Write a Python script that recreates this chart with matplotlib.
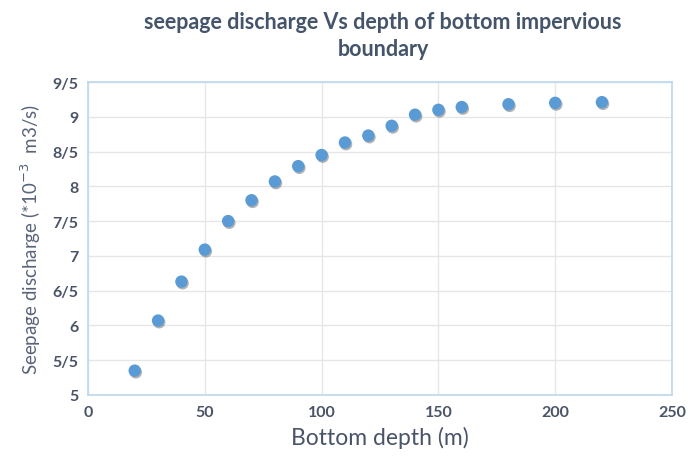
import matplotlib
matplotlib.use("Agg")
import matplotlib.pyplot as plt
import matplotlib.patheffects as pe

# bottom depth (m) vs seepage discharge (*10^-3 m3/s)
depth = [20, 30, 40, 50, 60, 70, 80, 90, 100, 110, 120, 130, 140, 150, 160, 180, 200, 220]
discharge = [5.35, 6.07, 6.63, 7.09, 7.50, 7.80, 8.07, 8.29, 8.45, 8.63, 8.73, 8.87,
             9.03, 9.10, 9.14, 9.18, 9.20, 9.21]

x_ticks = [0, 50, 100, 150, 200, 250]
y_ticks = [5, 5.5, 6, 6.5, 7, 7.5, 8, 8.5, 9, 9.5]
y_tick_labels = ["5", "5/5", "6", "6/5", "7", "7/5", "8", "8/5", "9", "9/5"]

plt.rcParams['font.family'] = ['Lato', 'DejaVu Sans']

fig = plt.figure(figsize=(6.9, 4.64), dpi=100)
ax = fig.add_axes([88 / 690, 1 - 396 / 464, 584 / 690, 313 / 464])

sc = ax.scatter(depth, discharge, s=80, color='#5b9bd5', zorder=3, linewidths=0)
sc.set_path_effects([pe.SimplePatchShadow(offset=(0.8, -1.2), shadow_rgbFace='#555555', alpha=0.45),
                     pe.Normal()])

ax.set_xlim(0, 250)
ax.set_ylim(5, 9.5)
ax.set_xticks(x_ticks)
ax.set_yticks(y_ticks)
ax.set_yticklabels(y_tick_labels)
ax.tick_params(length=0, labelsize=11.5, labelcolor='#4a5468', pad=7)
for lab in ax.get_xticklabels() + ax.get_yticklabels():
    lab.set_fontweight('bold')

ax.grid(True, color='#e6e6e6', linewidth=1)
ax.set_axisbelow(True)
for sp in ax.spines.values():
    sp.set_color('#bdd7ee')
    sp.set_linewidth(1.2)

ax.set_xlabel('Bottom depth (m)', fontsize=16.5, color='#4a5468', labelpad=5)
ax.set_ylabel('Seepage discharge (*10$^{-3}$  m3/s)', fontsize=13.5, color='#5a6478', labelpad=7)

fig.text(383 / 690, 1 - 36 / 464, 'seepage discharge Vs depth of bottom impervious\nboundary',
         ha='center', va='center', fontsize=15.5, fontweight='bold', color='#44546a',
         linespacing=1.35)

fig.savefig('out.png', dpi=100)
